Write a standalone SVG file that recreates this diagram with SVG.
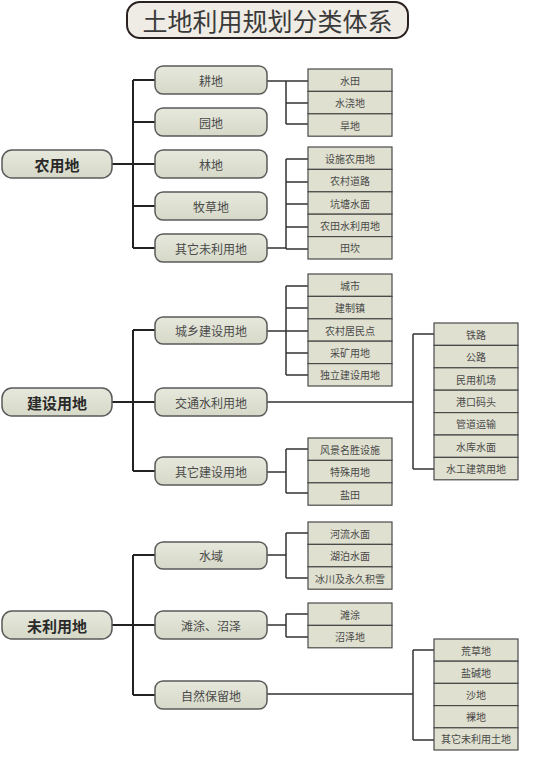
<svg xmlns="http://www.w3.org/2000/svg" width="550" height="775" viewBox="0 0 550 775">
<style>
text{font-family:"Noto Sans CJK SC","Noto Sans CJK TC",sans-serif;text-anchor:middle;dominant-baseline:central}
.title{font-size:25px;fill:#3a3a3a}
.t1{font-size:15px;font-weight:bold;fill:#2a2a2a}
.t2{font-size:12px;fill:#4a4a4a}
.t3{font-size:10px;fill:#4a4a4a}
.b0{fill:#efece5;stroke:#2a2020;stroke-width:2}
.b1{fill:url(#g1);stroke:#5a5a5a;stroke-width:1.5}
.b3{fill:#dfe0cf;stroke:#4a4a4a;stroke-width:1.2}
.c{fill:none;stroke:#222;stroke-width:2}
.c2{fill:none;stroke:#333;stroke-width:1.5}
</style>
<defs>
<linearGradient id="g1" x1="0" y1="0" x2="0" y2="1">
<stop offset="0" stop-color="#e6e8dc"/>
<stop offset="1" stop-color="#d6d9c8"/>
</linearGradient>
</defs>
<rect width="550" height="775" fill="#ffffff"/>
<g id="title"><rect class="b0" x="127" y="2" width="281" height="36" rx="13"/><text class="title" x="267.5" y="20">土地利用规划分类体系</text></g>

<g id="connectors">
<!-- 农用地 -->
<path class="c" d="M112 164 H133 M133 80 V248 M133 80 H155 M133 122 H155 M133 164 H155 M133 206 H155 M133 248 H155"/>
<path class="c2" d="M267 81 H308 M286 81 V124 M286 103 H308 M286 124 H308"/>
<path class="c2" d="M267 248 H286 M286 159 V249 M286 159 H308 M286 182 H308 M286 204 H308 M286 227 H308 M286 249 H308"/>
<!-- 建设用地 -->
<path class="c" d="M112 402 H133 M133 330 V471 M133 330 H155 M133 402 H155 M133 471 H155"/>
<path class="c2" d="M267 331 H286 M286 286 V375 M286 286 H308 M286 308 H308 M286 331 H308 M286 353 H308 M286 375 H308"/>
<path class="c2" d="M267 402 H413 M413 334 V469 M413 334 H434 M413 469 H434"/>
<path class="c2" d="M267 472 H286 M286 449 V493 M286 449 H308 M286 493 H308"/>
<!-- 未利用地 -->
<path class="c" d="M112 625 H133 M133 555 V695 M133 555 H155 M133 625 H155 M133 695 H155"/>
<path class="c2" d="M267 555 H286 M286 533 V578 M286 533 H308 M286 578 H308"/>
<path class="c2" d="M267 625 H286 M286 614 V637 M286 614 H308 M286 637 H308"/>
<path class="c2" d="M267 694 H413 M413 650 V740 M413 650 H434 M413 740 H434"/>
</g>

<g id="n-nongyongdi"><rect class="b1" x="2" y="150" width="110" height="28" rx="10"/><text class="t1" x="57" y="164">农用地</text></g>
<g id="n-jianshe"><rect class="b1" x="2" y="388" width="110" height="28" rx="10"/><text class="t1" x="57" y="402">建设用地</text></g>
<g id="n-weiliyong"><rect class="b1" x="2" y="611" width="110" height="28" rx="10"/><text class="t1" x="57" y="625">未利用地</text></g>

<g id="n-gengdi"><rect class="b1" x="155" y="66" width="112" height="28" rx="8"/><text class="t2" x="211" y="80">耕地</text></g>
<g id="n-yuandi"><rect class="b1" x="155" y="108" width="112" height="28" rx="8"/><text class="t2" x="211" y="122">园地</text></g>
<g id="n-lindi"><rect class="b1" x="155" y="150" width="112" height="28" rx="8"/><text class="t2" x="211" y="164">林地</text></g>
<g id="n-mucaodi"><rect class="b1" x="155" y="192" width="112" height="28" rx="8"/><text class="t2" x="211" y="206">牧草地</text></g>
<g id="n-qitawei"><rect class="b1" x="155" y="234" width="112" height="28" rx="8"/><text class="t2" x="211" y="248">其它未利用地</text></g>
<g id="n-chengxiang"><rect class="b1" x="155" y="317" width="112" height="27" rx="8"/><text class="t2" x="211" y="330.5">城乡建设用地</text></g>
<g id="n-jiaotong"><rect class="b1" x="155" y="388" width="112" height="28" rx="8"/><text class="t2" x="211" y="402">交通水利用地</text></g>
<g id="n-qitajianshe"><rect class="b1" x="155" y="457" width="112" height="28" rx="8"/><text class="t2" x="211" y="471">其它建设用地</text></g>
<g id="n-shuiyu"><rect class="b1" x="155" y="542" width="112" height="27" rx="8"/><text class="t2" x="211" y="555.5">水域</text></g>
<g id="n-tantu"><rect class="b1" x="155" y="611" width="112" height="28" rx="8"/><text class="t2" x="211" y="625">滩涂、沼泽</text></g>
<g id="n-ziran"><rect class="b1" x="155" y="681" width="112" height="28" rx="8"/><text class="t2" x="211" y="695">自然保留地</text></g>

<g id="g-geng">
<rect class="b3" x="308" y="69" width="84" height="22.4"/><text class="t3" x="350" y="80.2">水田</text>
<rect class="b3" x="308" y="91.4" width="84" height="22.4"/><text class="t3" x="350" y="102.6">水浇地</text>
<rect class="b3" x="308" y="113.8" width="84" height="22.4"/><text class="t3" x="350" y="125">旱地</text>
</g>
<g id="g-qita">
<rect class="b3" x="308" y="147" width="84" height="22.4"/><text class="t3" x="350" y="158.2">设施农用地</text>
<rect class="b3" x="308" y="169.4" width="84" height="22.4"/><text class="t3" x="350" y="180.6">农村道路</text>
<rect class="b3" x="308" y="191.8" width="84" height="22.4"/><text class="t3" x="350" y="203">坑塘水面</text>
<rect class="b3" x="308" y="214.2" width="84" height="22.4"/><text class="t3" x="350" y="225.4">农田水利用地</text>
<rect class="b3" x="308" y="236.6" width="84" height="22.4"/><text class="t3" x="350" y="247.8">田坎</text>
</g>
<g id="g-chengxiang">
<rect class="b3" x="308" y="274" width="84" height="22.4"/><text class="t3" x="350" y="285.2">城市</text>
<rect class="b3" x="308" y="296.4" width="84" height="22.4"/><text class="t3" x="350" y="307.6">建制镇</text>
<rect class="b3" x="308" y="318.8" width="84" height="22.4"/><text class="t3" x="350" y="330">农村居民点</text>
<rect class="b3" x="308" y="341.2" width="84" height="22.4"/><text class="t3" x="350" y="352.4">采矿用地</text>
<rect class="b3" x="308" y="363.6" width="84" height="22.4"/><text class="t3" x="350" y="374.8">独立建设用地</text>
</g>
<g id="g-jiaotong">
<rect class="b3" x="434" y="323" width="84" height="22.4"/><text class="t3" x="476" y="334.2">铁路</text>
<rect class="b3" x="434" y="345.4" width="84" height="22.4"/><text class="t3" x="476" y="356.6">公路</text>
<rect class="b3" x="434" y="367.8" width="84" height="22.4"/><text class="t3" x="476" y="379">民用机场</text>
<rect class="b3" x="434" y="390.2" width="84" height="22.4"/><text class="t3" x="476" y="401.4">港口码头</text>
<rect class="b3" x="434" y="412.6" width="84" height="22.4"/><text class="t3" x="476" y="423.8">管道运输</text>
<rect class="b3" x="434" y="435" width="84" height="22.4"/><text class="t3" x="476" y="446.2">水库水面</text>
<rect class="b3" x="434" y="457.4" width="84" height="22.4"/><text class="t3" x="476" y="468.6">水工建筑用地</text>
</g>
<g id="g-qitajianshe">
<rect class="b3" x="308" y="438" width="84" height="22.4"/><text class="t3" x="350" y="449.2">风景名胜设施</text>
<rect class="b3" x="308" y="460.4" width="84" height="22.4"/><text class="t3" x="350" y="471.6">特殊用地</text>
<rect class="b3" x="308" y="482.8" width="84" height="22.4"/><text class="t3" x="350" y="494">盐田</text>
</g>
<g id="g-shuiyu">
<rect class="b3" x="308" y="522" width="84" height="22.4"/><text class="t3" x="350" y="533.2">河流水面</text>
<rect class="b3" x="308" y="544.4" width="84" height="22.4"/><text class="t3" x="350" y="555.6">湖泊水面</text>
<rect class="b3" x="308" y="566.8" width="84" height="22.4"/><text class="t3" x="350" y="578">冰川及永久积雪</text>
</g>
<g id="g-tantu">
<rect class="b3" x="308" y="603" width="84" height="22.4"/><text class="t3" x="350" y="614.2">滩涂</text>
<rect class="b3" x="308" y="625.4" width="84" height="22.4"/><text class="t3" x="350" y="636.6">沼泽地</text>
</g>
<g id="g-ziran">
<rect class="b3" x="434" y="639" width="84" height="22.2"/><text class="t3" x="476" y="650.1">荒草地</text>
<rect class="b3" x="434" y="661.2" width="84" height="22.2"/><text class="t3" x="476" y="672.3">盐碱地</text>
<rect class="b3" x="434" y="683.4" width="84" height="22.2"/><text class="t3" x="476" y="694.5">沙地</text>
<rect class="b3" x="434" y="705.6" width="84" height="22.2"/><text class="t3" x="476" y="716.7">裸地</text>
<rect class="b3" x="434" y="727.8" width="84" height="22.2"/><text class="t3" x="476" y="738.9">其它未利用土地</text>
</g>
</svg>
